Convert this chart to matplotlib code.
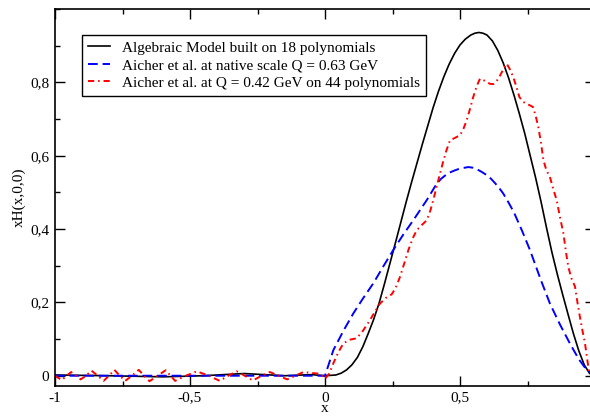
import numpy as np
import matplotlib
matplotlib.use("Agg")
import matplotlib.pyplot as plt
from matplotlib.ticker import MultipleLocator, FixedLocator, FuncFormatter

plt.rcParams['font.family'] = ['Liberation Serif', 'DejaVu Serif']
plt.rcParams['font.size'] = 11

# Algebraic model (black solid)
model_x = [-1.0, -0.8, -0.6, -0.45, -0.3, -0.15, -0.05, 0.0,
           0.02, 0.04, 0.06, 0.08, 0.10, 0.12, 0.14, 0.16, 0.18, 0.20, 0.22,
           0.24, 0.26, 0.28, 0.30, 0.32, 0.34, 0.36, 0.38, 0.40, 0.42, 0.44,
           0.46, 0.48, 0.50, 0.52, 0.54, 0.555, 0.57, 0.585, 0.60, 0.62, 0.64,
           0.66, 0.68, 0.70, 0.72, 0.74, 0.76, 0.78, 0.80, 0.82, 0.84, 0.86,
           0.88, 0.90, 0.92, 0.94, 0.96, 0.98, 1.0]
model_y = [0.002, 0.0, -0.003, 0.0, 0.006, 0.0, 0.003, 0.0,
           0.001, 0.002, 0.007, 0.016, 0.03, 0.05, 0.079, 0.115, 0.153, 0.197, 0.25,
           0.305, 0.36, 0.416, 0.472, 0.526, 0.578, 0.63, 0.68, 0.73, 0.775, 0.815,
           0.85, 0.879, 0.902, 0.918, 0.929, 0.934, 0.936, 0.934, 0.929, 0.913, 0.887,
           0.853, 0.812, 0.765, 0.714, 0.66, 0.60, 0.54, 0.475, 0.405, 0.338, 0.278,
           0.222, 0.168, 0.115, 0.068, 0.03, 0.006, 0.0]

# Aicher et al. native scale (blue dashed)
native_x = [-1.0, -0.5, -0.02, 0.0, 0.031, 0.07, 0.105, 0.14, 0.179, 0.215,
            0.253, 0.29, 0.327, 0.377, 0.414, 0.43, 0.45, 0.465, 0.481, 0.50,
            0.531, 0.55, 0.565, 0.58, 0.599, 0.615, 0.63, 0.645, 0.66, 0.68,
            0.70, 0.73, 0.759, 0.80, 0.833, 0.87, 0.907, 0.94, 0.969, 1.0]
native_y = [0.0, 0.0, 0.0, 0.0, 0.07, 0.125, 0.17, 0.21, 0.252, 0.297,
            0.343, 0.385, 0.424, 0.479, 0.524, 0.537, 0.549, 0.555, 0.56, 0.565,
            0.569, 0.567, 0.562, 0.556, 0.547, 0.537, 0.525, 0.512, 0.497, 0.472,
            0.445, 0.395, 0.343, 0.26, 0.197, 0.14, 0.088, 0.045, 0.016, 0.0]

# Aicher et al. at Q = 0.42 GeV (red dash-dot)
evolved_x = [-1.0, -0.975, -0.957, -0.94, -0.922, -0.905, -0.885, -0.865, -0.842, -0.82,
             -0.80, -0.78, -0.76, -0.74, -0.715, -0.69, -0.67, -0.65, -0.62, -0.59,
             -0.572, -0.555, -0.515, -0.475, -0.43, -0.39, -0.358, -0.327, -0.297, -0.267,
             -0.235, -0.204, -0.172, -0.14, -0.11, -0.08, -0.03, -0.02, 0.0, 0.015,
             0.031, 0.05, 0.068, 0.09, 0.117, 0.14, 0.167, 0.185, 0.204, 0.225,
             0.247, 0.262, 0.278, 0.295, 0.309, 0.325, 0.34, 0.36, 0.377, 0.39,
             0.401, 0.415, 0.426, 0.438, 0.45, 0.463, 0.48, 0.50, 0.512, 0.525,
             0.538, 0.549, 0.562, 0.574, 0.587, 0.599, 0.611, 0.623, 0.635, 0.646,
             0.66, 0.673, 0.685, 0.697, 0.708, 0.72, 0.732, 0.744, 0.757, 0.77,
             0.78, 0.79, 0.80, 0.809, 0.82, 0.833, 0.845, 0.858, 0.871, 0.883,
             0.892, 0.901, 0.913, 0.926, 0.935, 0.944, 0.953, 0.963, 0.972, 0.979, 1.0]
evolved_y = [0.0, -0.012, 0.0, 0.01, 0.0, -0.01, 0.0, 0.014, 0.0, -0.014,
             0.0, 0.016, 0.0, -0.014, 0.0, 0.016, 0.0, -0.015, 0.0, 0.015,
             0.0, -0.014, 0.0, 0.012, 0.0, -0.014, 0.0, 0.012, 0.0, -0.013,
             0.0, 0.01, 0.0, -0.01, 0.0, 0.01, 0.006, 0.006, -0.008, 0.005,
             0.034, 0.065, 0.088, 0.098, 0.102, 0.122, 0.152, 0.175, 0.197, 0.212,
             0.222, 0.24, 0.27, 0.31, 0.343, 0.375, 0.397, 0.412, 0.424, 0.45,
             0.479, 0.52, 0.551, 0.585, 0.615, 0.642, 0.648, 0.656, 0.672, 0.697,
             0.73, 0.76, 0.79, 0.81, 0.806, 0.801, 0.796, 0.795, 0.803, 0.815,
             0.835, 0.851, 0.835, 0.815, 0.79, 0.76, 0.748, 0.742, 0.738, 0.733,
             0.71, 0.678, 0.635, 0.588, 0.56, 0.542, 0.51, 0.479, 0.43, 0.388,
             0.34, 0.297, 0.265, 0.243, 0.2, 0.161, 0.125, 0.088, 0.04, 0.007, 0.0]

labels = ["Algebraic Model built on 18 polynomials",
          "Aicher et al. at native scale Q = 0.63 GeV",
          "Aicher et al. at Q = 0.42 GeV on 44 polynomials"]

xticks = [-1.0, -0.5, 0.0, 0.5]
yticks = [0.0, 0.2, 0.4, 0.6, 0.8]

fig = plt.figure(figsize=(5.9, 4.17), dpi=100)
# axes runs slightly past the right edge, as in the original
ax = fig.add_axes([55 / 590, 1 - 386 / 417, 540 / 590, 377 / 417])

ax.plot(model_x, model_y, color='black', lw=1.2, label=labels[0])
ax.plot(native_x, native_y, color='#0000ff', lw=1.4, linestyle=(0, (5, 2.5)), label=labels[1])
ax.plot(evolved_x, evolved_y, color='#ff0000', lw=1.4, linestyle=(0, (3.2, 2, 0.8, 2)), label=labels[2])

ax.set_xlim(-1, 1)
ax.set_ylim(-0.028, 1.0)

ax.xaxis.set_major_locator(FixedLocator(xticks))
ax.xaxis.set_minor_locator(MultipleLocator(0.25))
ax.yaxis.set_major_locator(FixedLocator(yticks))
ax.yaxis.set_minor_locator(MultipleLocator(0.1))

fmt = FuncFormatter(lambda v, p: f"{v:g}".replace('.', ','))
ax.xaxis.set_major_formatter(fmt)
ax.yaxis.set_major_formatter(fmt)

ax.tick_params(which='both', direction='in', top=True, right=True, width=1.0)
ax.tick_params(which='major', length=7.5, labelsize=11)
ax.tick_params(axis='x', which='major', pad=4)
ax.tick_params(axis='y', which='major', pad=4)
ax.tick_params(which='minor', length=3.5)
for s in ax.spines.values():
    s.set_linewidth(1.2)

ax.set_xlabel('x', labelpad=-2)
ax.set_ylabel('xH(x,0,0)', labelpad=3)

leg = ax.legend(loc='upper left', bbox_to_anchor=((82 - 55) / 540, (386 - 35) / 377),
                borderaxespad=0, fancybox=False, framealpha=1, edgecolor='black',
                handlelength=1.45, handletextpad=0.75, labelspacing=0.25,
                borderpad=0.4, fontsize=11)
leg.get_frame().set_linewidth(1.0)

fig.savefig('out.png', dpi=100)
